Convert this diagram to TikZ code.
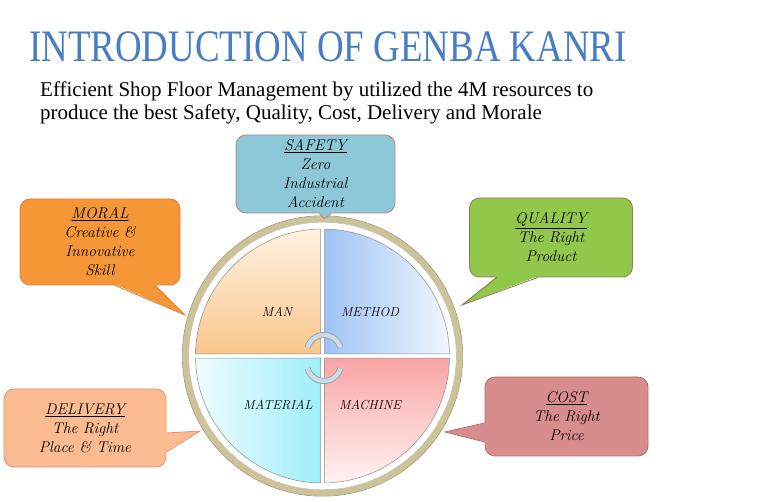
\documentclass[tikz,border=0pt]{standalone}
\usepackage{fontspec}
\usepackage{xcolor}
\usepackage{tikz}
\usetikzlibrary{calc}
\newfontfamily\titlefont{Liberation Serif}

\definecolor{titleblue}{RGB}{70,125,195}
\definecolor{ringtan}{RGB}{205,195,155}
\definecolor{ringdark}{RGB}{160,150,110}
\definecolor{arcpale}{RGB}{205,220,228}
\definecolor{arcdark}{RGB}{140,158,170}
\definecolor{safetyfill}{RGB}{140,200,215}
\definecolor{safetyline}{RGB}{195,125,125}
\definecolor{qualityfill}{RGB}{145,200,75}
\definecolor{qualityline}{RGB}{140,125,85}
\definecolor{moralfill}{RGB}{245,150,55}
\definecolor{moralline}{RGB}{225,125,55}
\definecolor{deliveryfill}{RGB}{250,187,145}
\definecolor{deliveryline}{RGB}{230,145,115}
\definecolor{costfill}{RGB}{215,140,142}
\definecolor{costline}{RGB}{185,110,112}

\begin{document}
\begin{tikzpicture}[x=1pt, y=1pt,
		bubble/.style={rounded corners=10pt, line width=0.8pt, align=center, inner sep=0pt,
			font=\fontsize{15.5}{19}\selectfont\itshape},
		quad/.style={draw=black!45, line width=0.5pt},
		quadlabel/.style={font=\fontsize{13}{13}\selectfont\itshape}]
				\useasboundingbox (0,0) rectangle (760,502);
	
				% heading
				\node (title) at (328,455) {\titlefont\fontsize{45}{45}\selectfont\color{titleblue}\scalebox{0.82}[1]{INTRODUCTION OF GENBA KANRI}};
				\node[anchor=north west, align=left, inner sep=0pt, font=\titlefont\fontsize{21}{23}\selectfont] (subtitle) at (40,420)
					{Efficient Shop Floor Management by utilized the 4M resources to\\
					produce the best Safety, Quality, Cost, Delivery and Morale};
	
				% the 4M wheel
				\coordinate (hub) at (322.5,146);
				\draw[line width=6pt, ringtan] (hub) circle[radius=137];
				\draw[ringdark, line width=0.6pt] (hub) circle[radius=140.2];
				\draw[ringdark!70, line width=0.5pt] (hub) circle[radius=133.8];
	
				\shadedraw[quad, top color={rgb,255:red,255;green,242;blue,225}, bottom color={rgb,255:red,250;green,198;blue,140}]
					($(hub)+(-2,2)$) -- ($(hub)+(179:127)$) arc[start angle=179, end angle=91, radius=127] -- cycle;
				\shadedraw[quad, left color={rgb,255:red,160;green,195;blue,245}, right color={rgb,255:red,240;green,247;blue,255}]
					($(hub)+(2,2)$) -- ($(hub)+(89:127)$) arc[start angle=89, end angle=1, radius=127] -- cycle;
				\shadedraw[quad, left color={rgb,255:red,238;green,252;blue,255}, right color={rgb,255:red,160;green,238;blue,250}]
					($(hub)+(-2,-2)$) -- ($(hub)+(181:127)$) arc[start angle=181, end angle=269, radius=127] -- cycle;
				\shadedraw[quad, top color={rgb,255:red,250;green,165;blue,165}, bottom color={rgb,255:red,255;green,242;blue,242}]
					($(hub)+(2,-2)$) -- ($(hub)+(271:127)$) arc[start angle=271, end angle=359, radius=127] -- cycle;
	
				\node[quadlabel] (man) at (277,190) {MAN};
				\node[quadlabel] (method) at (370,190) {METHOD};
				\node[quadlabel] (material) at (278,97) {MATERIAL};
				\node[quadlabel] (machine) at (370,97) {MACHINE};
	
				% cycle arrows
				\draw[arcdark, line width=6pt] ($(hub)+(1.5,4)+(165:17)$) arc[start angle=165, end angle=15, radius=17];
				\draw[arcpale, line width=4.4pt] ($(hub)+(1.5,4)+(165:17)$) arc[start angle=165, end angle=15, radius=17];
				\draw[arcdark, line width=6pt] ($(hub)+(1.5,-8)+(195:17)$) arc[start angle=195, end angle=345, radius=17];
				\draw[arcpale, line width=4.4pt] ($(hub)+(1.5,-8)+(195:17)$) arc[start angle=195, end angle=345, radius=17];
	
				% callouts
				\node[bubble, fill=safetyfill, draw=safetyline, minimum width=159pt, minimum height=78pt] (safety) at (315.5,328)
					{\underline{SAFETY}\\Zero\\Industrial\\Accident};
				\node[bubble, fill=qualityfill, draw=qualityline, minimum width=163pt, minimum height=79pt] (quality) at (551,264.5)
					{\underline{QUALITY}\\The Right\\Product};
				\node[bubble, fill=moralfill, draw=moralline, minimum width=160pt, minimum height=86pt] (moral) at (100,260)
					{\underline{MORAL}\\Creative \&\\Innovative\\Skill};
				\node[bubble, fill=deliveryfill, draw=deliveryline, minimum width=162pt, minimum height=78pt] (delivery) at (85,74)
					{\underline{DELIVERY}\\The Right\\Place \& Time};
				\node[bubble, fill=costfill, draw=costline, minimum width=163pt, minimum height=79pt] (cost) at (566.5,85.5)
					{\underline{COST}\\The Right\\Price};
	
				\coordinate (safetytip) at (324,283);
				\coordinate (qualitytip) at (462,197);
				\coordinate (moraltip) at (185,187);
				\coordinate (deliverytip) at (200,71);
				\coordinate (costtip) at (445,70);
	
				\fill[safetyfill] ($(safety.south)+(4,1.2)$) -- (safetytip) -- ($(safety.south)+(16,1.2)$) -- cycle;
				\draw[safetyline, line width=0.8pt] ($(safety.south)+(4,0)$) -- (safetytip) -- ($(safety.south)+(16,0)$);
				\fill[qualityfill] ($(quality.south)+(-54,1.2)$) -- (qualitytip) -- ($(quality.south)+(-13,1.2)$) -- cycle;
				\draw[qualityline, line width=0.8pt] ($(quality.south)+(-54,0)$) -- (qualitytip) -- ($(quality.south)+(-13,0)$);
				\fill[moralfill] ($(moral.south)+(15,1.2)$) -- (moraltip) -- ($(moral.south)+(55,1.2)$) -- cycle;
				\draw[moralline, line width=0.8pt] ($(moral.south)+(15,0)$) -- (moraltip) -- ($(moral.south)+(55,0)$);
				\fill[deliveryfill] ($(delivery.east)+(-1.2,-5)$) -- (deliverytip) -- ($(delivery.east)+(-1.2,-24)$) -- cycle;
				\draw[deliveryline, line width=0.8pt] ($(delivery.east)+(0,-5)$) -- (deliverytip) -- ($(delivery.east)+(0,-24)$);
				\fill[costfill] ($(cost.west)+(1.2,-6.5)$) -- (costtip) -- ($(cost.west)+(1.2,-25.5)$) -- cycle;
				\draw[costline, line width=0.8pt] ($(cost.west)+(0,-6.5)$) -- (costtip) -- ($(cost.west)+(0,-25.5)$);
			\end{tikzpicture}
\end{document}
